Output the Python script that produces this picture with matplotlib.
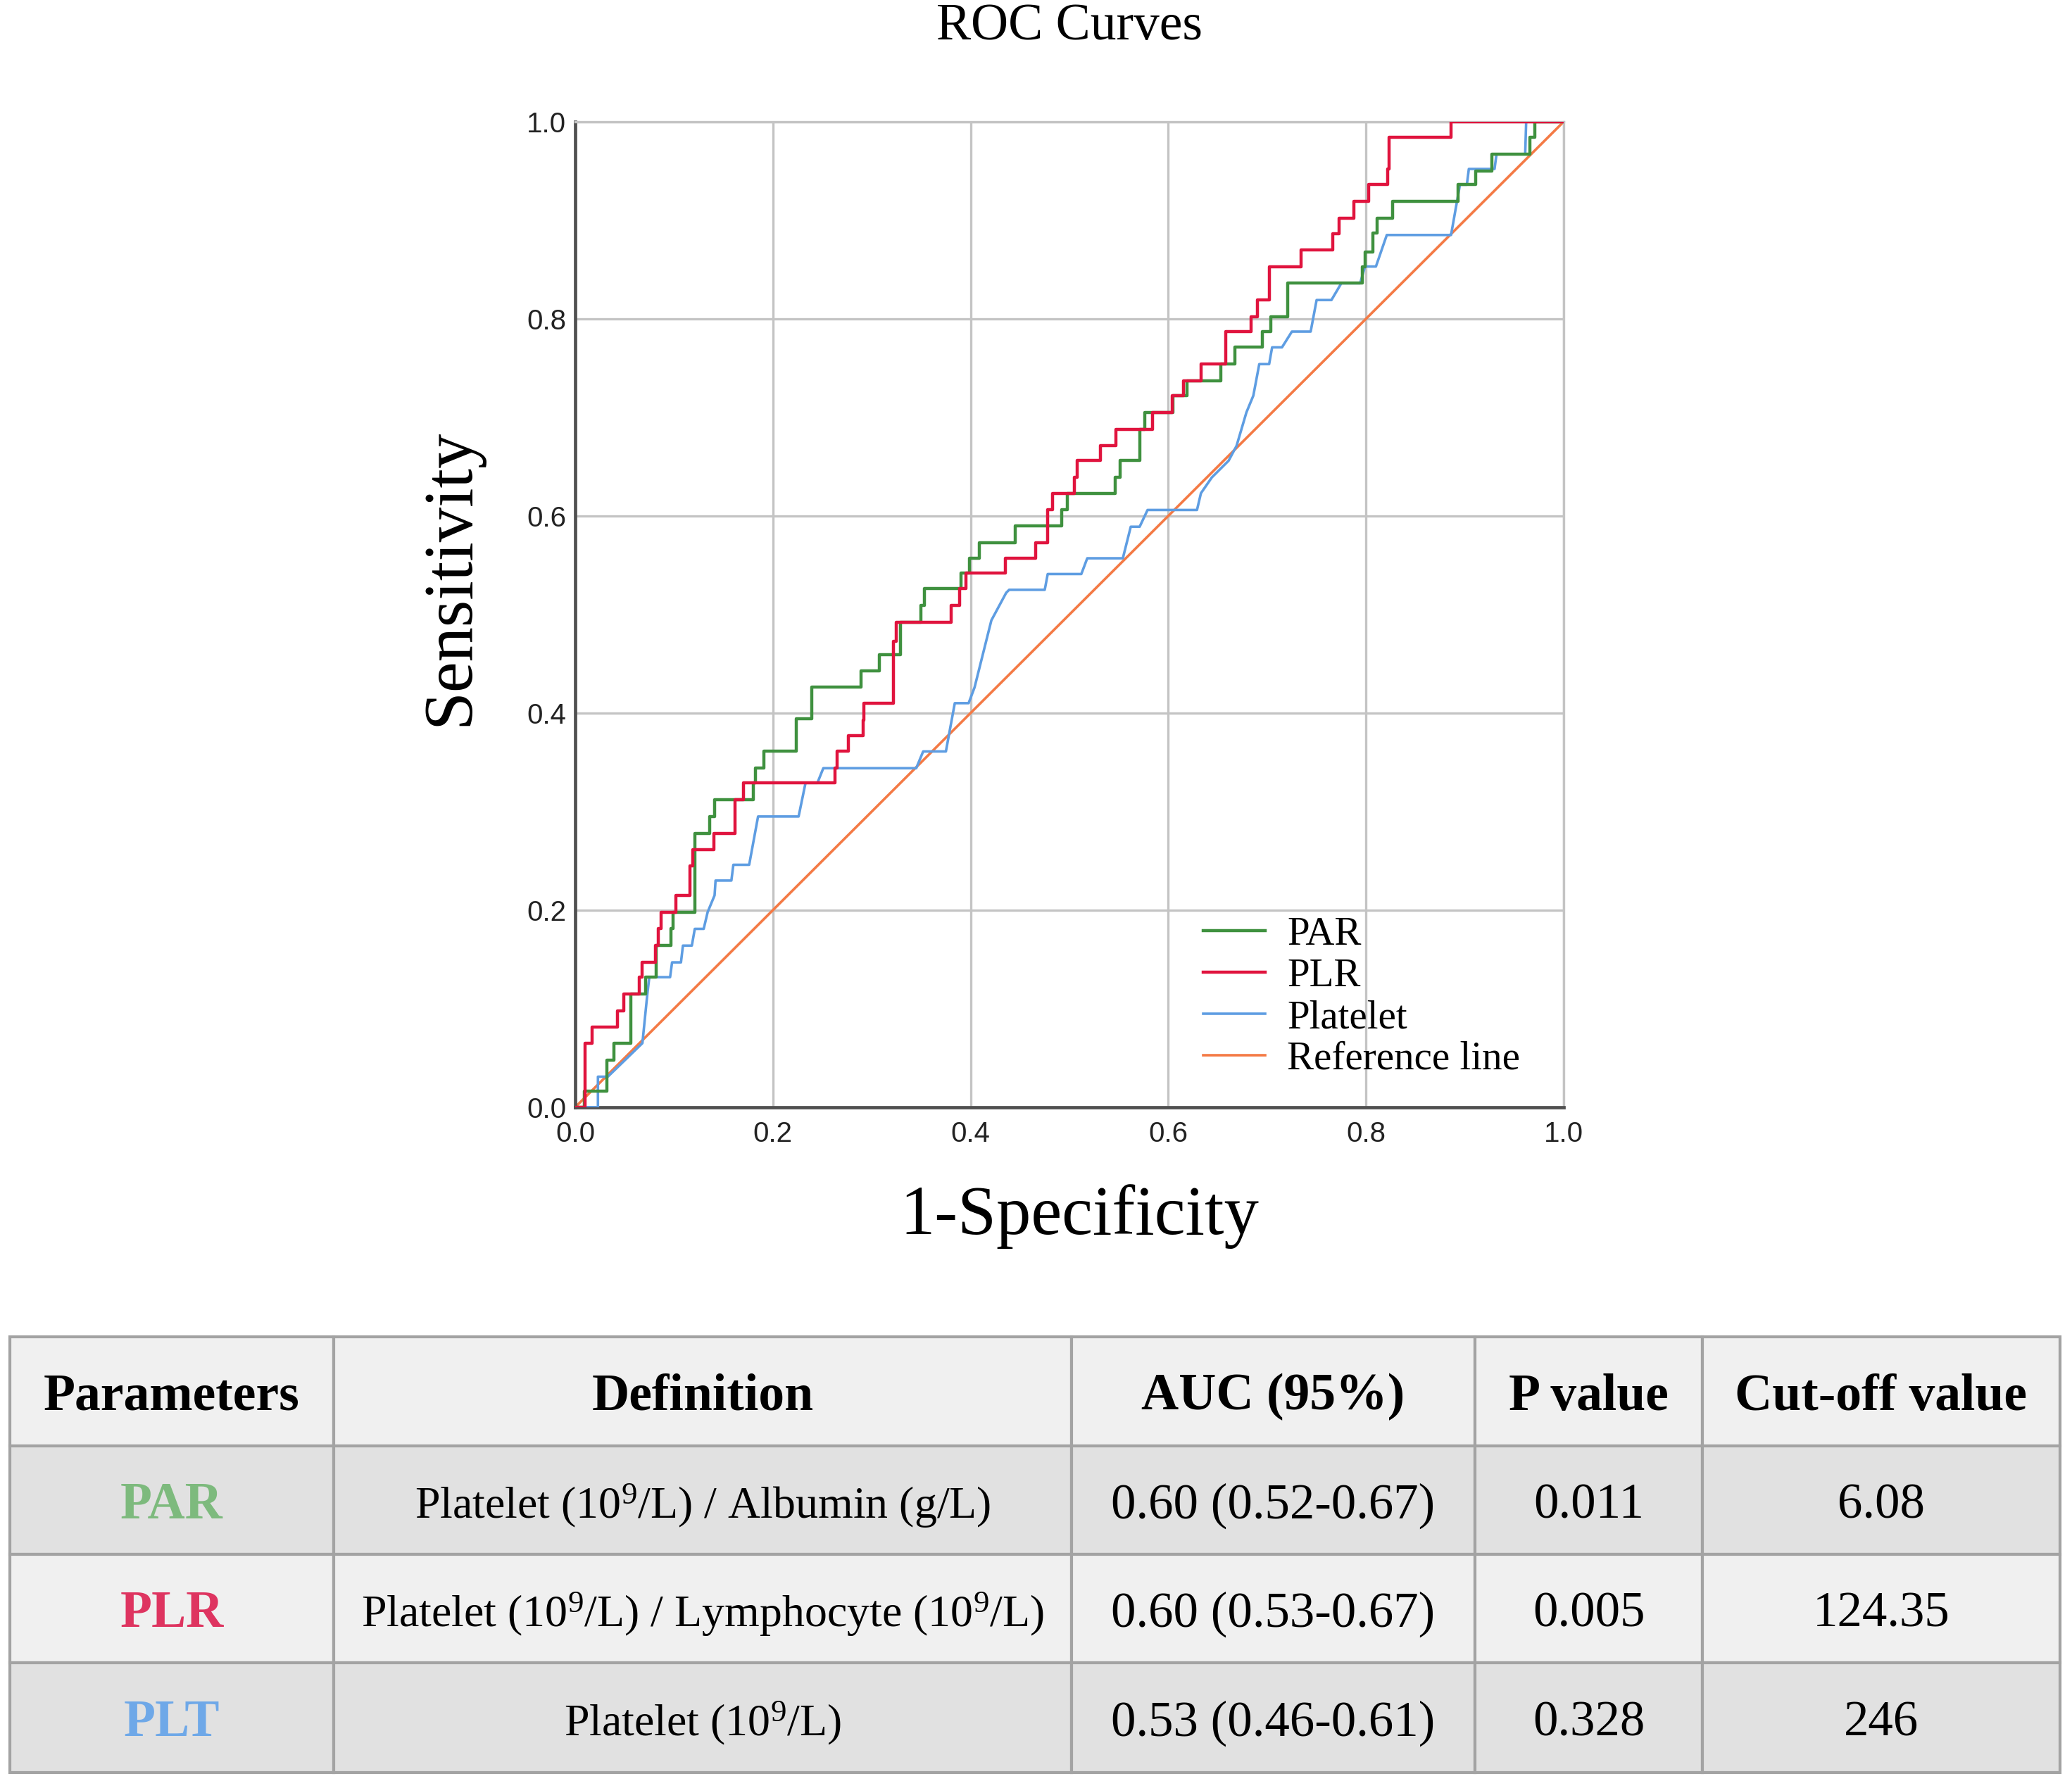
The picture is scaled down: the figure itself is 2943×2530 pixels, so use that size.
import matplotlib
matplotlib.use("Agg")
import matplotlib.pyplot as plt
from matplotlib.patches import Rectangle

plt.rcParams['font.family'] = ['Liberation Serif', 'DejaVu Serif']
plt.rcParams['mathtext.fontset'] = 'custom'
plt.rcParams['mathtext.rm'] = 'Liberation Serif'
plt.rcParams['mathtext.it'] = 'Liberation Serif:italic'
plt.rcParams['mathtext.bf'] = 'Liberation Serif:bold'

# ROC curves (1-specificity, sensitivity)
# PAR / PLR: corners where each horizontal run starts (drawn as steps-post)
par_fpr = [0.000, 0.009, 0.032, 0.039, 0.056, 0.071, 0.082, 0.097, 0.099, 0.121,
           0.136, 0.141, 0.180, 0.182, 0.191, 0.224, 0.239, 0.289, 0.308, 0.329,
           0.350, 0.353, 0.390, 0.399, 0.409, 0.445, 0.492, 0.498, 0.546, 0.551,
           0.571, 0.576, 0.605, 0.619, 0.653, 0.667, 0.695, 0.704, 0.721, 0.796,
           0.799, 0.807, 0.811, 0.827, 0.893, 0.911, 0.927, 0.966, 0.971, 1.000]
par_tpr = [0.000, 0.016, 0.048, 0.065, 0.115, 0.132, 0.164, 0.181, 0.198, 0.278,
           0.295, 0.312, 0.329, 0.344, 0.361, 0.394, 0.426, 0.443, 0.459, 0.492,
           0.509, 0.526, 0.542, 0.557, 0.573, 0.590, 0.606, 0.623, 0.639, 0.656,
           0.688, 0.705, 0.722, 0.737, 0.754, 0.771, 0.787, 0.802, 0.836, 0.853,
           0.868, 0.887, 0.902, 0.919, 0.936, 0.950, 0.967, 0.984, 1.000, 1.000]

plr_fpr = [0.000, 0.010, 0.017, 0.043, 0.049, 0.065, 0.068, 0.081, 0.084, 0.087,
           0.102, 0.116, 0.119, 0.140, 0.162, 0.170, 0.263, 0.265, 0.276, 0.291,
           0.292, 0.322, 0.325, 0.380, 0.389, 0.395, 0.435, 0.466, 0.478, 0.483,
           0.505, 0.508, 0.531, 0.547, 0.584, 0.604, 0.615, 0.633, 0.658, 0.684,
           0.690, 0.702, 0.734, 0.766, 0.773, 0.788, 0.803, 0.822, 0.823, 0.886,
           1.000]
plr_tpr = [0.000, 0.065, 0.081, 0.098, 0.115, 0.132, 0.147, 0.164, 0.181, 0.198,
           0.215, 0.245, 0.261, 0.278, 0.312, 0.329, 0.344, 0.361, 0.377, 0.393,
           0.410, 0.473, 0.492, 0.509, 0.526, 0.542, 0.557, 0.573, 0.606, 0.623,
           0.639, 0.656, 0.671, 0.688, 0.705, 0.722, 0.737, 0.754, 0.787, 0.802,
           0.819, 0.853, 0.870, 0.886, 0.902, 0.919, 0.936, 0.952, 0.984, 1.000,
           1.000]

# Platelet: vertices of the polyline (has tied, slanted segments)
plt_fpr = [0.000, 0.023, 0.023, 0.033, 0.068, 0.073, 0.075, 0.096, 0.098, 0.107,
           0.109, 0.118, 0.121, 0.130, 0.134, 0.141, 0.142, 0.158, 0.160, 0.176,
           0.185, 0.226, 0.233, 0.245, 0.251, 0.345, 0.352, 0.375, 0.384, 0.398,
           0.404, 0.421, 0.436, 0.439, 0.475, 0.478, 0.512, 0.518, 0.554, 0.562,
           0.571, 0.579, 0.629, 0.633, 0.644, 0.661, 0.669, 0.679, 0.686, 0.692,
           0.702, 0.705, 0.715, 0.725, 0.744, 0.750, 0.765, 0.775, 0.794, 0.799,
           0.810, 0.821, 0.886, 0.892, 0.895, 0.902, 0.904, 0.930, 0.932, 0.961,
           0.962, 1.000]
plt_tpr = [0.000, 0.000, 0.031, 0.031, 0.065, 0.115, 0.132, 0.132, 0.147, 0.147,
           0.164, 0.164, 0.181, 0.181, 0.198, 0.215, 0.230, 0.230, 0.246, 0.246,
           0.295, 0.295, 0.329, 0.329, 0.344, 0.344, 0.361, 0.361, 0.410, 0.410,
           0.426, 0.494, 0.522, 0.525, 0.525, 0.541, 0.541, 0.557, 0.557, 0.589,
           0.589, 0.606, 0.606, 0.623, 0.639, 0.656, 0.671, 0.705, 0.722, 0.754,
           0.754, 0.771, 0.771, 0.787, 0.787, 0.819, 0.819, 0.836, 0.836, 0.853,
           0.853, 0.885, 0.885, 0.919, 0.936, 0.936, 0.952, 0.952, 0.967, 0.967,
           1.000, 1.000]

ref_x = [0.0, 1.0]
ref_y = [0.0, 1.0]
ticks = [0.0, 0.2, 0.4, 0.6, 0.8, 1.0]

# table contents
tab_header = ['Parameters', 'Definition', 'AUC (95%)', 'P value', 'Cut-off value']
tab_param = ['PAR', 'PLR', 'PLT']
tab_def = [r'Platelet (10$^{9}$/L) / Albumin (g/L)',
           r'Platelet (10$^{9}$/L) / Lymphocyte (10$^{9}$/L)',
           r'Platelet (10$^{9}$/L)']
tab_auc = ['0.60 (0.52-0.67)', '0.60 (0.53-0.67)', '0.53 (0.46-0.61)']
tab_p = ['0.011', '0.005', '0.328']
tab_cut = ['6.08', '124.35', '246']

c_par = '#3f913f'
c_plr = '#e0143e'
c_plt = '#5e9de2'
c_ref = '#f47a45'
txt_colors = ['#7dba7d', '#de3460', '#6ea8e8']

fig = plt.figure(figsize=(29.43, 25.30), dpi=100)
ax = fig.add_axes([0.2776, 0.3783, 0.4771, 0.5534])

ax.plot(par_fpr, par_tpr, drawstyle='steps-post', color=c_par, lw=3.2, label='PAR', zorder=4)
ax.plot(plr_fpr, plr_tpr, drawstyle='steps-post', color=c_plr, lw=3.2, label='PLR', zorder=5)
ax.plot(plt_fpr, plt_tpr, color=c_plt, lw=2.6, label='Platelet', zorder=3)
ax.plot(ref_x, ref_y, color=c_ref, lw=2.6, label='Reference line', zorder=2)

ax.set_xlim(0, 1)
ax.set_ylim(0, 1)
ax.set_xticks(ticks)
ax.set_yticks(ticks)
ax.set_xticklabels([f'{t:.1f}' for t in ticks], fontfamily='Liberation Sans', fontsize=29, color='#222222')
ax.set_yticklabels([f'{t:.1f}' for t in ticks], fontfamily='Liberation Sans', fontsize=29, color='#222222')
ax.tick_params(length=0)
ax.tick_params(axis='x', pad=14)
ax.tick_params(axis='y', pad=9)
ax.grid(color='#c4c4c4', lw=2.4)
ax.set_axisbelow(True)
for side in ['top', 'right']:
    ax.spines[side].set_color('#c4c4c4')
    ax.spines[side].set_linewidth(2.4)
for side in ['left', 'bottom']:
    ax.spines[side].set_color('#505050')
    ax.spines[side].set_linewidth(3.4)

ax.legend(loc='lower left', bbox_to_anchor=(0.635, 0.030), frameon=False, fontsize=41,
          borderpad=0, borderaxespad=0, handlelength=1.55, handletextpad=0.55,
          labelspacing=0.12)

fig.text(0.516, 0.985, 'ROC Curves', ha='center', va='center', fontsize=53)
fig.text(0.2175, 0.676, 'Sensitivity', rotation=90, ha='center', va='center', fontsize=71)
fig.text(0.521, 0.317, '1-Specificity', ha='center', va='center', fontsize=71)

# table drawn in pixel coordinates
tax = fig.add_axes([0, 0, 1, 1], zorder=-1)
tax.set_xlim(0, 2943)
tax.set_ylim(2530, 0)
tax.axis('off')

col_edges = [14, 474, 1522, 2095, 2418, 2926]
row_edges = [1899, 2054, 2208, 2362, 2518]
row_fill = ['#f0f0f0', '#e1e1e1', '#f0f0f0', '#e1e1e1']

rows = [tab_header] + [[tab_param[i], tab_def[i], tab_auc[i], tab_p[i], tab_cut[i]] for i in range(3)]
for r, row in enumerate(rows):
    y0, y1 = row_edges[r], row_edges[r + 1]
    for c, val in enumerate(row):
        x0, x1 = col_edges[c], col_edges[c + 1]
        tax.add_patch(Rectangle((x0, y0), x1 - x0, y1 - y0, facecolor=row_fill[r],
                                edgecolor='#a3a3a3', lw=3))
        if r == 0:
            kw = dict(fontsize=53, fontweight='bold', color='black')
        elif c == 0:
            kw = dict(fontsize=53, fontweight='bold', color=txt_colors[r - 1])
        elif c == 1:
            kw = dict(fontsize=46, color='black')
        else:
            kw = dict(fontsize=51, color='black')
        tax.text((x0 + x1) / 2, (y0 + y1) / 2 + 8, val, ha='center', va='center', **kw)

fig.savefig('out.png', dpi=100)
